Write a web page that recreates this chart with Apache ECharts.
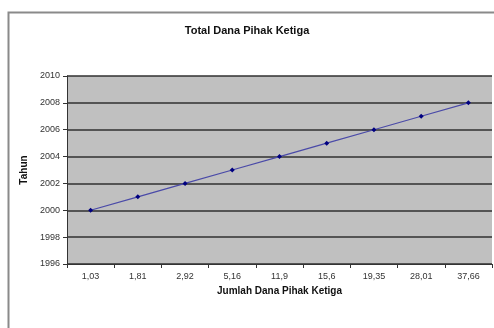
<!DOCTYPE html>
<html><head><meta charset="utf-8">
<script src="https://cdn.jsdelivr.net/npm/echarts@6/dist/echarts.min.js"></script>
<style>html,body{margin:0;padding:0;background:#fff}#c{width:494px;height:328px}</style>
</head><body><div id="c"></div>
<script>
const categories = ['1,03','1,81','2,92','5,16','11,9','15,6','19,35','28,01','37,66'];
const tahun = [2000,2001,2002,2003,2004,2005,2006,2007,2008];
const yTicks = {min:1996, max:2010, interval:2};
const F = '"Liberation Sans Narrow","Liberation Sans",Arial,sans-serif';
const chart = echarts.init(document.getElementById('c'));
chart.setOption({
  animation:false,
  graphic:[{type:'rect',shape:{x:8.5,y:12.5,width:500,height:330},style:{fill:'none',stroke:'#8a8a8a',lineWidth:2},z:-1}],
  title:{text:'Total Dana Pihak Ketiga',left:'center',top:20,textStyle:{fontFamily:F,fontSize:11,fontWeight:'bold',color:'#111'}},
  grid:{left:67,right:2,top:76,bottom:64,show:true,backgroundColor:'#c0c0c0',borderColor:'#c0c0c0',borderWidth:0},
  xAxis:{type:'category',data:categories,boundaryGap:true,
    name:'Jumlah Dana Pihak Ketiga',nameLocation:'middle',nameGap:20,
    nameTextStyle:{fontFamily:F,fontSize:10,fontWeight:'bold',color:'#111'},
    axisLine:{lineStyle:{color:'#333',width:1}},
    axisTick:{show:true,length:4,lineStyle:{color:'#333'}},
    axisLabel:{fontFamily:F,fontSize:9,color:'#333',margin:8}},
  yAxis:{type:'value',min:yTicks.min,max:yTicks.max,interval:yTicks.interval,
    name:'Tahun',nameLocation:'middle',nameGap:33,nameRotate:90,
    nameTextStyle:{fontFamily:F,fontSize:10,fontWeight:'bold',color:'#111'},
    axisLine:{show:true,lineStyle:{color:'#333'}},
    axisTick:{show:true,length:4,lineStyle:{color:'#333'}},
    axisLabel:{fontFamily:F,fontSize:9,color:'#333',margin:7,formatter:v=>String(v)},
    splitLine:{show:true,lineStyle:{color:'#303030',width:1.5}}},
  series:[{type:'line',data:tahun,symbol:'diamond',symbolSize:5,
    lineStyle:{color:'#4a4aa8',width:1.2},
    itemStyle:{color:'#000080'}}]
});
</script></body></html>
